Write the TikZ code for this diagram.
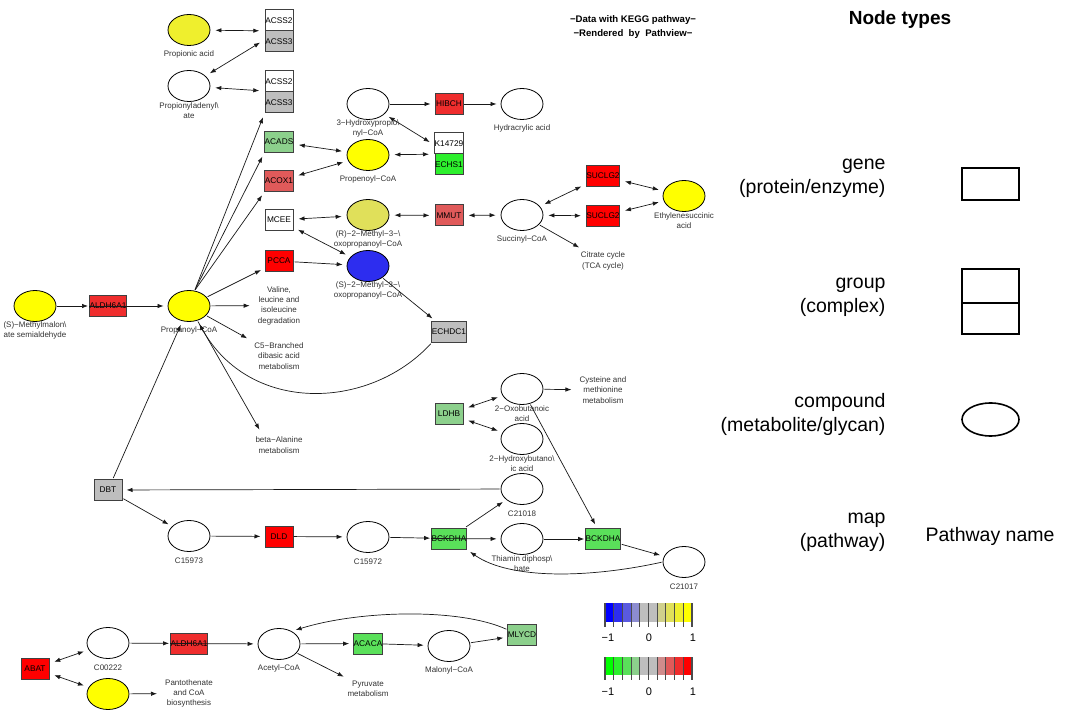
\documentclass[tikz,border=0pt]{standalone}
\usepackage{fontspec}
\setmainfont{Liberation Sans}
\usetikzlibrary{arrows.meta,positioning,shapes.geometric,fit}

\definecolor{redA}{HTML}{FF0000}
\definecolor{redB}{HTML}{EF2D2D}
\definecolor{redC}{HTML}{E05A5A}
\definecolor{redD}{HTML}{D08C8C}
\definecolor{grnA}{HTML}{00FF00}
\definecolor{grnB}{HTML}{2DEF2D}
\definecolor{grnC}{HTML}{5AE05A}
\definecolor{grnD}{HTML}{8CD08C}
\definecolor{bluA}{HTML}{0000FF}
\definecolor{bluB}{HTML}{2D2DEF}
\definecolor{bluC}{HTML}{5A5AE0}
\definecolor{bluD}{HTML}{8C8CD0}
\definecolor{ylwA}{HTML}{FFFF00}
\definecolor{ylwB}{HTML}{EFEF2D}
\definecolor{ylwC}{HTML}{E0E05A}
\definecolor{ylwD}{HTML}{D0D08C}
\definecolor{midgray}{HTML}{BEBEBE}

\begin{document}
\begin{tikzpicture}[
			x=1pt, y=-1pt,
			>={Latex[length=6pt,width=4.4pt]},
			cpd/.style={
				ellipse,
				draw,
				line width=0.8pt,
				minimum width=42pt,
				minimum height=31pt,
				inner sep=0pt
			},
			cpdlab/.style={
				anchor=center,
				align=center,
				inner sep=0pt,
				text=black!80,
				font=\fontsize{8}{10}\selectfont
			},
			gene/.style={
				draw=black!75,
				line width=1pt,
				minimum width=28pt,
				minimum height=21pt,
				inner sep=0pt,
				font=\fontsize{8.3}{10}\selectfont
			},
			maplab/.style={
				align=center,
				inner sep=1pt,
				text=black!80,
				font=\fontsize{8}{10.3}\selectfont
			},
			arr/.style={->, line width=0.7pt, black!90, shorten >=4pt, shorten <=1pt},
			darr/.style={<->, line width=0.7pt, black!90, shorten >=5pt, shorten <=5pt},
			maparr/.style={->, line width=0.7pt, black!90, shorten >=7pt, shorten <=1pt},
			legtxt/.style={anchor=east, align=right, font=\fontsize{19.5}{24}\selectfont}
			]
			
			\path[use as bounding box, fill=white] (0,0) rectangle (1080,719);
			
			% compounds
			\node[cpd,fill=ylwB] (propac) at (189,30) {};
			\node[cpd] (propad) at (189,86) {};
			\node[cpd,fill=ylwA] (smsa) at (35,306) {};
			\node[cpd,fill=ylwA] (propcoa) at (189,306) {};
			\node[cpd] (hpcoa) at (368,104) {};
			\node[cpd] (hydra) at (522,104) {};
			\node[cpd,fill=ylwA] (propen) at (368,155) {};
			\node[cpd,fill=ylwC] (rmeth) at (368,215) {};
			\node[cpd,fill=bluB] (smeth) at (368,266) {};
			\node[cpd] (succ) at (522,215) {};
			\node[cpd,fill=ylwA] (ethyl) at (684,196) {};
			\node[cpd] (oxob) at (522,389) {};
			\node[cpd] (hydrb) at (522,439) {};
			\node[cpd] (c18) at (522,489) {};
			\node[cpd] (c73) at (189,536) {};
			\node[cpd] (c72) at (368,537) {};
			\node[cpd] (thia) at (522,539) {};
			\node[cpd] (c17) at (684,562) {};
			\node[cpd] (c222) at (108,643) {};
			\node[cpd,fill=ylwA] (ylwcpd) at (108,694) {};
			\node[cpd] (acet) at (279,644) {};
			\node[cpd] (malo) at (449,646) {};
			
			% compound names
			\node[cpdlab,below=0pt of propac.south,anchor=center,yshift=-8.5pt] (propac-l) {Propionic acid};
			\node[cpdlab,below=0pt of propad.south,anchor=center,yshift=-8.5pt] (propad-l) {Propionyladenyl\textbackslash\\ate};
			\node[cpdlab,below=0pt of smsa.south,anchor=center,yshift=-8.5pt] (smsa-l) {(S)−Methylmalon\textbackslash\\ate semialdehyde};
			\node[cpdlab,below=0pt of propcoa.south,anchor=center,yshift=-8.5pt] (propcoa-l) {Propanoyl−CoA};
			\node[cpdlab,below=0pt of hpcoa.south,anchor=center,yshift=-8.5pt] (hpcoa-l) {3−Hydroxypropio\textbackslash\\nyl−CoA};
			\node[cpdlab,below=0pt of hydra.south,anchor=center,yshift=-8.5pt] (hydra-l) {Hydracrylic acid};
			\node[cpdlab,below=0pt of propen.south,anchor=center,yshift=-8.5pt] (propen-l) {Propenoyl−CoA};
			\node[cpdlab,below=0pt of rmeth.south,anchor=center,yshift=-8.5pt] (rmeth-l) {(R)−2−Methyl−3−\textbackslash\\oxopropanoyl−CoA};
			\node[cpdlab,below=0pt of smeth.south,anchor=center,yshift=-8.5pt] (smeth-l) {(S)−2−Methyl−3−\textbackslash\\oxopropanoyl−CoA};
			\node[cpdlab,below=0pt of succ.south,anchor=center,yshift=-8.5pt] (succ-l) {Succinyl−CoA};
			\node[cpdlab,below=0pt of ethyl.south,anchor=center,yshift=-8.5pt] (ethyl-l) {Ethylenesuccinic\\acid};
			\node[cpdlab,below=0pt of oxob.south,anchor=center,yshift=-8.5pt] (oxob-l) {2−Oxobutanoic\\acid};
			\node[cpdlab,below=0pt of hydrb.south,anchor=center,yshift=-8.5pt] (hydrb-l) {2−Hydroxybutano\textbackslash\\ic acid};
			\node[cpdlab,below=0pt of c18.south,anchor=center,yshift=-8.5pt] (c18-l) {C21018};
			\node[cpdlab,below=0pt of c73.south,anchor=center,yshift=-8.5pt] (c73-l) {C15973};
			\node[cpdlab,below=0pt of c72.south,anchor=center,yshift=-8.5pt] (c72-l) {C15972};
			\node[cpdlab,below=0pt of thia.south,anchor=center,yshift=-8.5pt] (thia-l) {Thiamin diphosp\textbackslash\\hate};
			\node[cpdlab,below=0pt of c17.south,anchor=center,yshift=-8.5pt] (c17-l) {C21017};
			\node[cpdlab,below=0pt of c222.south,anchor=center,yshift=-8.5pt] (c222-l) {C00222};
			\node[cpdlab,below=0pt of acet.south,anchor=center,yshift=-8.5pt] (acet-l) {Acetyl−CoA};
			\node[cpdlab,below=0pt of malo.south,anchor=center,yshift=-8.5pt] (malo-l) {Malonyl−CoA};
			
			% genes
			\node[gene,fill=white] (acs2a) at (279,20.5) {ACSS2};
			\node[gene,fill=midgray] (acs3a) at (279,41.5) {ACSS3};
			\node[fit=(acs2a)(acs3a),inner sep=0pt] (acsA) {};
			\node[gene,fill=white] (acs2b) at (279,81.5) {ACSS2};
			\node[gene,fill=midgray] (acs3b) at (279,102.5) {ACSS3};
			\node[fit=(acs2b)(acs3b),inner sep=0pt] (acsB) {};
			\node[gene,fill=grnD] (acads) at (279,142) {ACADS};
			\node[gene,fill=redC] (acox) at (279,181) {ACOX1};
			\node[gene,fill=white] (mcee) at (279,220) {MCEE};
			\node[gene,fill=redA] (pcca) at (279,261) {PCCA};
			\node[gene,fill=redB] (aldh) at (108,306) {ALDH6A1};
			\node[gene,fill=redB] (hibch) at (449,104) {HIBCH};
			\node[gene,fill=white] (k147) at (449,143.5) {K14729};
			\node[gene,fill=grnB] (echs) at (449,164.5) {ECHS1};
			\node[fit=(k147)(echs),inner sep=0pt] (echsgrp) {};
			\node[gene,fill=redC] (mmut) at (449,215.5) {MMUT};
			\node[gene,fill=redA] (suclA) at (603,176) {SUCLG2};
			\node[gene,fill=redA] (suclB) at (603,216) {SUCLG2};
			\node[gene,fill=midgray] (echdc) at (449,332) {ECHDC1};
			\node[gene,fill=grnD] (ldhb) at (449,414) {LDHB};
			\node[gene,fill=midgray] (dbt) at (108,490) {DBT};
			\node[gene,fill=redA] (dld) at (279,536.5) {DLD};
			\node[gene,fill=grnC] (bckA) at (449,538.5) {BCKDHA};
			\node[gene,fill=grnC] (bckB) at (603,539) {BCKDHA};
			\node[gene,fill=redA] (abat) at (35,668.5) {ABAT};
			\node[gene,fill=redB] (aldhB) at (189,643.5) {ALDH6A1};
			\node[gene,fill=grnC] (acaca) at (368,643.5) {ACACA};
			\node[gene,fill=grnD] (mlycd) at (522,635) {MLYCD};
			
			% pathway maps
			\node[maplab] (valine) at (279,305.5) {Valine,\\leucine and\\isoleucine\\degradation};
			\node[maplab] (c5) at (279,356) {C5−Branched\\dibasic acid\\metabolism};
			\node[maplab] (bala) at (279,445) {beta−Alanine\\metabolism};
			\node[maplab] (tca) at (603,261) {Citrate cycle\\(TCA cycle)};
			\node[maplab] (cys) at (603,390) {Cysteine and\\methionine\\metabolism};
			\node[maplab] (panto) at (189,693.5) {Pantothenate\\and CoA\\biosynthesis};
			\node[maplab] (pyru) at (368,689) {Pyruvate\\metabolism};
			
			% reactions
			\draw[darr] (propac) -- (acsA);
			\draw[darr] (propad) -- (acsA);
			\draw[darr] (propad) -- (acsB);
			\draw[arr] (propcoa.70) -- (acs3b.south west);
			\draw[arr] (propcoa.70) -- (acads.south west);
			\draw[arr] (propcoa.70) -- (acox.south west);
			\draw[arr] (propcoa) -- (pcca);
			\draw[maparr] (propcoa) -- (valine);
			\draw[maparr] (propcoa) -- (c5);
			\draw[maparr] (propcoa.-60) -- (bala.150);
			\draw[arr,shorten >=1pt] (smsa) -- (aldh);
			\draw[arr,shorten <=0pt] (aldh.west) -- (propcoa);
			\draw[darr] (acads) -- (propen);
			\draw[darr] (acox) -- (propen);
			\draw[darr] (propen) -- (echsgrp);
			\draw[darr] (hpcoa) -- (echsgrp);
			\draw[arr] (hpcoa) -- (hibch);
			\draw[arr,shorten <=0pt] (hibch) -- (hydra);
			\draw[darr] (mcee) -- (rmeth);
			\draw[darr] (mcee) -- (smeth);
			\draw[arr] (pcca) -- (smeth);
			\draw[arr] (smeth) -- (echdc);
			\draw[arr] (echdc.south west) .. controls (370,410) and (250,415) .. (propcoa.-60);
			\draw[darr] (rmeth) -- (mmut);
			\draw[darr] (mmut) -- (succ);
			\draw[darr] (succ) -- (suclA);
			\draw[darr] (succ) -- (suclB);
			\draw[darr] (suclA) -- (ethyl);
			\draw[darr] (suclB) -- (ethyl);
			\draw[maparr] (succ) -- (tca);
			\draw[maparr] (oxob) -- (cys);
			\draw[darr] (ldhb) -- (oxob);
			\draw[darr] (ldhb) -- (hydrb);
			\draw[arr] (oxob) -- (bckB);
			\draw[arr] (c18) -- (dbt);
			\draw[arr] (dbt) -- (propcoa);
			\draw[arr] (dbt) -- (c73);
			\draw[arr] (c73) -- (dld);
			\draw[arr,shorten <=0pt] (dld) -- (c72);
			\draw[arr,shorten >=1pt] (c72) -- (bckA);
			\draw[arr,shorten <=0pt] (bckA.west) -- (thia);
			\draw[arr] (bckA) -- (c18);
			\draw[arr,shorten >=1pt] (thia) -- (bckB);
			\draw[arr] (bckB) -- (c17);
			\draw[arr] (c17.west) .. controls (590,578) and (510,580) .. (bckA.south east);
			\draw[darr] (abat) -- (c222);
			\draw[darr] (abat) -- (ylwcpd);
			\draw[maparr] (ylwcpd) -- (panto);
			\draw[arr,shorten >=1pt] (c222) -- (aldhB);
			\draw[arr,shorten <=0pt] (aldhB.west) -- (acet);
			\draw[arr] (acet) -- (acaca);
			\draw[arr,shorten <=0pt] (acaca) -- (malo);
			\draw[arr] (malo) -- (mlycd);
			\draw[arr] (mlycd.160) .. controls (460,608) and (360,610) .. (acet.45);
			\draw[maparr] (acet) -- (pyru);
			
			% header
			\node[align=center,font=\bfseries\fontsize{9.6}{14}\selectfont] (hdr) at (633,27)
			{−Data with KEGG pathway−\\−Rendered\ \ by\ \ Pathview−};
			
			% colour keys
			\foreach \c [count=\i from 0] in {bluA,bluB,bluC,bluD,midgray,midgray,ylwD,ylwC,ylwB,ylwA}
			\fill[\c] (605+\i*8.7,603) rectangle ++(8.7,19);
			\foreach \i in {0,...,10}
			\draw[black!70,line width=1.1pt] (605+\i*8.7,603) -- ++(0,24);
			\foreach \c [count=\i from 0] in {grnA,grnB,grnC,grnD,midgray,midgray,redD,redC,redB,redA}
			\fill[\c] (605+\i*8.7,657) rectangle ++(8.7,18);
			\foreach \i in {0,...,10}
			\draw[black!70,line width=1.1pt] (605+\i*8.7,657) -- ++(0,23);
			\node[font=\fontsize{11}{13}\selectfont] (k1lo) at (608,638) {−1};
			\node[font=\fontsize{11}{13}\selectfont] (k1mid) at (649,638) {0};
			\node[font=\fontsize{11}{13}\selectfont] (k1hi) at (693,638) {1};
			\node[font=\fontsize{11}{13}\selectfont] (k2lo) at (608,692) {−1};
			\node[font=\fontsize{11}{13}\selectfont] (k2mid) at (649,692) {0};
			\node[font=\fontsize{11}{13}\selectfont] (k2hi) at (693,692) {1};
			
			% node types
			\node[font=\bfseries\fontsize{19}{22}\selectfont] (legtitle) at (900,20) {Node types};
			\node[legtxt] (lgene) at (889,178.5) {gene\\(protein/enzyme)};
			\node[legtxt] (lgroup) at (889,297) {group\\(complex)};
			\node[legtxt] (lcpd) at (889,414) {compound\\(metabolite/glycan)};
			\node[legtxt] (lmap) at (889,532.5) {map\\(pathway)};
			\node[draw,line width=2pt,minimum width=57pt,minimum height=32pt] (lgenebox) at (990.5,184) {};
			\node[draw,line width=2pt,minimum width=57pt,minimum height=33.5pt] (lgrpA) at (990.5,286) {};
			\node[draw,line width=2pt,minimum width=57pt,minimum height=31.5pt,below=-2pt of lgrpA] (lgrpB) {};
			\node[draw,ellipse,line width=1.6pt,minimum width=57pt,minimum height=33pt] (lcpdbox) at (990.5,419.5) {};
			\node[font=\fontsize{19.5}{24}\selectfont] (lpath) at (990,536) {Pathway name};
			
		\end{tikzpicture}
\end{document}
